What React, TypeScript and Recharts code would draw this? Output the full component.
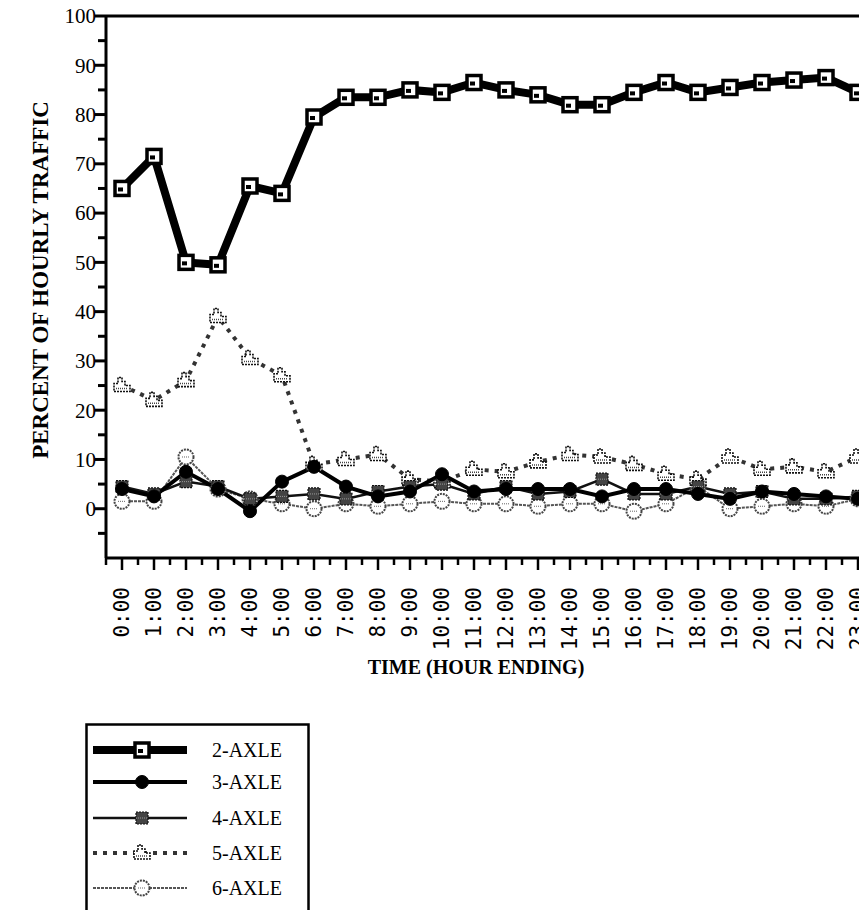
import React from 'react';
import { LineChart, Line, XAxis, YAxis, ReferenceLine } from 'recharts';

const hourLabels = ['0:00', '1:00', '2:00', '3:00', '4:00', '5:00', '6:00', '7:00', '8:00', '9:00', '10:00', '11:00', '12:00', '13:00', '14:00', '15:00', '16:00', '17:00', '18:00', '19:00', '20:00', '21:00', '22:00', '23:00'];
const hourIndex = [0, 1, 2, 3, 4, 5, 6, 7, 8, 9, 10, 11, 12, 13, 14, 15, 16, 17, 18, 19, 20, 21, 22, 23];

const axle2 = [65, 71.5, 50, 49.5, 65.5, 64, 79.5, 83.5, 83.5, 85, 84.5, 86.5, 85, 84, 82, 82, 84.5, 86.5, 84.5, 85.5, 86.5, 87, 87.5, 84.5];
const axle3 = [4, 2.5, 7.5, 4, -0.5, 5.5, 8.5, 4.5, 2.5, 3.5, 7, 3.5, 4, 4, 4, 2.5, 4, 4, 3, 2, 3.5, 3, 2.5, 2];
const axle4 = [4.5, 3, 5.5, 4.5, 2, 2.5, 3, 2, 3.5, 4.5, 5, 3, 4.5, 3, 3.5, 6, 3, 3, 4.5, 3, 3.5, 2, 2, 2.5];
const axle5 = [25, 22, 26, 39, 30.5, 27, 9, 10, 11, 6, 5.5, 8, 7.5, 9.5, 11, 10.5, 9, 7, 6, 10.5, 8, 8.5, 7.5, 10.5];
const axle6 = [1.5, 1.5, 10.5, 4, 2, 1, 0, 1, 0.5, 1, 1.5, 1, 1, 0.5, 1, 1, -0.5, 1, 4.5, 0, 0.5, 1, 0.5, 2];

const yTicks = [-5, 0, 5, 10, 15, 20, 25, 30, 35, 40, 45, 50, 55, 60, 65, 70, 75, 80, 85, 90, 95, 100];
const xTicks = [-0.5, 0, 0.5, 1, 1.5, 2, 2.5, 3, 3.5, 4, 4.5, 5, 5.5, 6, 6.5, 7, 7.5, 8, 8.5, 9, 9.5, 10, 10.5, 11, 11.5, 12, 12.5, 13, 13.5, 14, 14.5, 15, 15.5, 16, 16.5, 17, 17.5, 18, 18.5, 19, 19.5, 20, 20.5, 21, 21.5, 22, 22.5, 23, 23.5];

const seriesNames = ['2-AXLE', '3-AXLE', '4-AXLE', '5-AXLE', '6-AXLE'];

const data = hourIndex.map((h, i) => ({
  x: h,
  a2: axle2[i],
  a3: axle3[i],
  a4: axle4[i],
  a5: axle5[i],
  a6: axle6[i],
}));

const SERIF = '"Liberation Serif", "Times New Roman", serif';
const MONO = '"DejaVu Sans Mono", monospace';

const Marker2 = ({ cx, cy }: any) => (
  <g>
    <rect x={cx - 7} y={cy - 7} width={14} height={14} fill="#fff" stroke="#000" strokeWidth={3.5} />
    <rect x={cx - 4} y={cy - 1} width={5} height={4} fill="#000" />
  </g>
);
const Marker3 = ({ cx, cy }: any) => <circle cx={cx} cy={cy} r={6.5} fill="#000" stroke="#000" strokeWidth={1} />;
const Marker4 = ({ cx, cy }: any) => (
  <g>
    <rect x={cx - 6} y={cy - 6} width={12} height={12} fill="#444" stroke="#111" strokeWidth={1.2} strokeDasharray="2 1" />
    <line x1={cx - 6} x2={cx + 6} y1={cy} y2={cy} stroke="#999" strokeWidth={1} strokeDasharray="1 1" />
  </g>
);
const Marker5 = ({ cx, cy }: any) => (
  <g>
    <path
      d={`M ${cx - 8} ${cy + 6} L ${cx + 8} ${cy + 6} L ${cx + 8} ${cy} L ${cx + 3} ${cy} L ${cx + 3} ${cy - 4} L ${cx} ${cy - 4} L ${cx} ${cy - 8} L ${cx - 4} ${cy - 8} L ${cx - 4} ${cy - 2} L ${cx - 8} ${cy - 2} Z`}
      fill="#fff"
      stroke="#111"
      strokeWidth={1.6}
      strokeDasharray="2 1"
    />
    <line x1={cx - 6} x2={cx + 6} y1={cy + 3} y2={cy + 3} stroke="#444" strokeWidth={1.5} strokeDasharray="1 1" />
  </g>
);
const Marker6 = ({ cx, cy }: any) => (
  <g>
    <circle cx={cx} cy={cy} r={7.5} fill="#fff" stroke="#444" strokeWidth={2} strokeDasharray="2 1" />
    <line x1={cx - 4} x2={cx + 4} y1={cy} y2={cy} stroke="#666" strokeWidth={1} strokeDasharray="1 1" />
  </g>
);

const markers = [Marker2, Marker3, Marker4, Marker5, Marker6];
const lineStyles = [
  { stroke: '#000', strokeWidth: 8, dash: undefined as string | undefined },
  { stroke: '#000', strokeWidth: 4, dash: undefined },
  { stroke: '#111', strokeWidth: 2.5, dash: undefined },
  { stroke: '#333', strokeWidth: 4, dash: '4 6' },
  { stroke: '#555', strokeWidth: 2, dash: '3 1' },
];

const YTick = (props: any) => {
  const { x, y, payload } = props;
  const v = payload.value;
  const major = v % 10 === 0;
  return (
    <g>
      <line x1={x - (major ? 11 : 8)} x2={x} y1={y} y2={y} stroke="#000" strokeWidth={3} />
      {major && (
        <text x={x - 10} y={y} dy="0.35em" textAnchor="end" fontFamily={SERIF} fontSize={21} fill="#000">
          {v}
        </text>
      )}
    </g>
  );
};

const XTick = (props: any) => {
  const { x, y, payload } = props;
  const v = payload.value;
  const major = Number.isInteger(v);
  const ty = y + 29;
  return (
    <g>
      <line x1={x} x2={x} y1={y} y2={y + (major ? 12 : 7)} stroke="#000" strokeWidth={2.5} />
      {major && (
        <text
          x={x}
          y={ty}
          dy="0.35em"
          textAnchor="end"
          transform={`rotate(-90 ${x} ${ty})`}
          fontFamily={MONO}
          fontSize={21}
          fill="#000"
        >
          {hourLabels[v]}
        </text>
      )}
    </g>
  );
};

const XLabel = (props: any) => {
  const vb = props.viewBox || {};
  return (
    <text x={vb.x + 370} y={vb.y + 116} textAnchor="middle" fontFamily={SERIF} fontWeight="bold" fontSize={20} fill="#000">
      TIME (HOUR ENDING)
    </text>
  );
};

const YLabel = (props: any) => {
  const vb = props.viewBox || {};
  const cx = 40;
  const cy = vb.y + vb.height / 2 - 7;
  return (
    <text
      x={cx}
      y={cy}
      dy="0.35em"
      textAnchor="middle"
      transform={`rotate(-90 ${cx} ${cy})`}
      fontFamily={SERIF}
      fontWeight="bold"
      fontSize={23}
      fill="#000"
    >
      PERCENT OF HOURLY TRAFFIC
    </text>
  );
};

const keys = ['a2', 'a3', 'a4', 'a5', 'a6'];
const drawOrder = [4, 3, 2, 1, 0];

const LegendBox = () => {
  const rows = [27, 59, 95, 130, 165];
  return (
    <svg width={232} height={190} style={{ position: 'absolute', left: 85, top: 723 }}>
      <rect x={1.5} y={1.5} width={222} height={260} fill="#fff" stroke="#000" strokeWidth={2.5} />
      {seriesNames.map((name, i) => {
        const M = markers[i];
        const s = lineStyles[i];
        const y = rows[i];
        return (
          <g key={name}>
            <line x1={8} x2={102} y1={y} y2={y} stroke={s.stroke} strokeWidth={s.strokeWidth} strokeDasharray={s.dash} />
            <M cx={57} cy={y} />
            <text x={127} y={y} dy="0.35em" fontFamily={SERIF} fontSize={20} fill="#000">
              {name}
            </text>
          </g>
        );
      })}
    </svg>
  );
};

export default function App() {
  return (
    <div style={{ position: 'relative', width: 867, height: 910, marginTop: -8, marginLeft: -8, overflow: 'hidden', background: '#fff' }}>
      <LineChart width={874} height={910} data={data} margin={{ top: 16, right: 0, left: 0, bottom: 0 }}>
        <XAxis
          type="number"
          dataKey="x"
          domain={[-0.5, 23.5]}
          ticks={xTicks}
          interval={0}
          tickSize={0}
          tickMargin={0}
          tick={<XTick />}
          tickLine={false}
          axisLine={{ stroke: '#000', strokeWidth: 3 }}
          height={352}
          label={<XLabel />}
        />
        <YAxis
          type="number"
          domain={[-10, 100]}
          ticks={yTicks}
          interval={0}
          tickSize={0}
          tickMargin={0}
          tick={<YTick />}
          tickLine={false}
          axisLine={{ stroke: '#000', strokeWidth: 3 }}
          width={106}
          allowDataOverflow
          label={<YLabel />}
        />
        <ReferenceLine y={100} stroke="#000" strokeWidth={3} ifOverflow="visible" />
        {drawOrder.map((i) => {
          const M = markers[i];
          const s = lineStyles[i];
          return (
            <Line
              key={keys[i]}
              type="linear"
              dataKey={keys[i]}
              name={seriesNames[i]}
              stroke={s.stroke}
              strokeWidth={s.strokeWidth}
              strokeDasharray={s.dash}
              isAnimationActive={false}
              dot={(p: any) => <M key={`${keys[i]}-${p.index}`} cx={p.cx} cy={p.cy} />}
              activeDot={false}
            />
          );
        })}
      </LineChart>
      <LegendBox />
    </div>
  );
}
